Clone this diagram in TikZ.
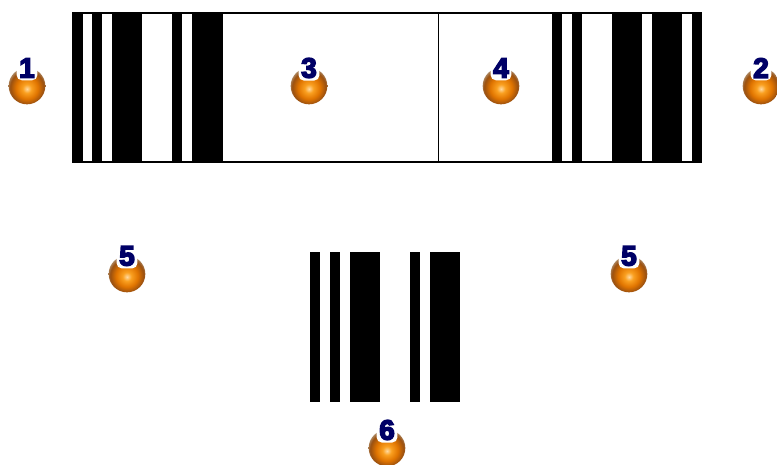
\documentclass[tikz,border=0pt]{standalone}
\usepackage{fontspec}
\setmainfont{Liberation Sans}
\definecolor{numblue}{HTML}{000066}
\definecolor{ballhi}{HTML}{FFD9A0}
\definecolor{ballmid}{HTML}{FAA020}
\definecolor{ballout}{HTML}{E07400}
\definecolor{ballrim}{HTML}{9A5010}
\definecolor{ballfade}{HTML}{B8A890}
\pgfdeclareradialshading{orangeball}{\pgfpoint{0pt}{-4pt}}{%
color(0pt)=(ballhi);color(6pt)=(ballmid);color(15pt)=(ballout);color(23pt)=(ballrim);color(29pt)=(ballfade);color(50pt)=(ballfade)}
\newcommand{\ballnum}[1]{\bfseries\special{pdf:code 2 Tr 1.1 w}#1\special{pdf:code 0 Tr}}
\tikzset{
  ball/.style={circle,minimum size=27.5pt,inner sep=0pt,shading=orangeball},
  ballno/.style={fill=white,text=numblue,rounded corners=4pt,inner xsep=2pt,inner ysep=2pt,font=\fontsize{21}{21}\selectfont},
  bar/.style={fill=black}
}
\begin{document}
\begin{tikzpicture}[x=0.75pt,y=-0.75pt]
\useasboundingbox (0,0) rectangle (777,464);
\clip (0,0) rectangle (777,464);
% long code
\foreach \x/\w in {73/9.5,92/10,112/30,172/10,192/30,552/10,572/10,612/30,652/30,692/9.5} {\fill[bar] (\x,13) rectangle (\x+\w,162);}
\draw[line width=0.9pt] (72.5,13) rectangle (701.5,162);
\draw[line width=0.9pt] (222,13)--(222,162);
\draw[line width=1.3pt] (438.5,13)--(438.5,162);
% short code
\foreach \x/\w in {310/10,330/10,350/30,410/10,430/30} {\fill[bar] (\x,252) rectangle (\x+\w,402);}
% numbered balls
\foreach \name/\x/\y/\n in {a/27/86/1,b/761/86/2,c/309/86/3,d/501/86/4,e/127/274/5,f/629/274/5,g/387/448/6} {
\node[ball] (ball\name) at (\x,\y) {};
\node[ballno] (num\name) at (\x,\y-18) {\ballnum{\n}};
}
\end{tikzpicture}
\end{document}
